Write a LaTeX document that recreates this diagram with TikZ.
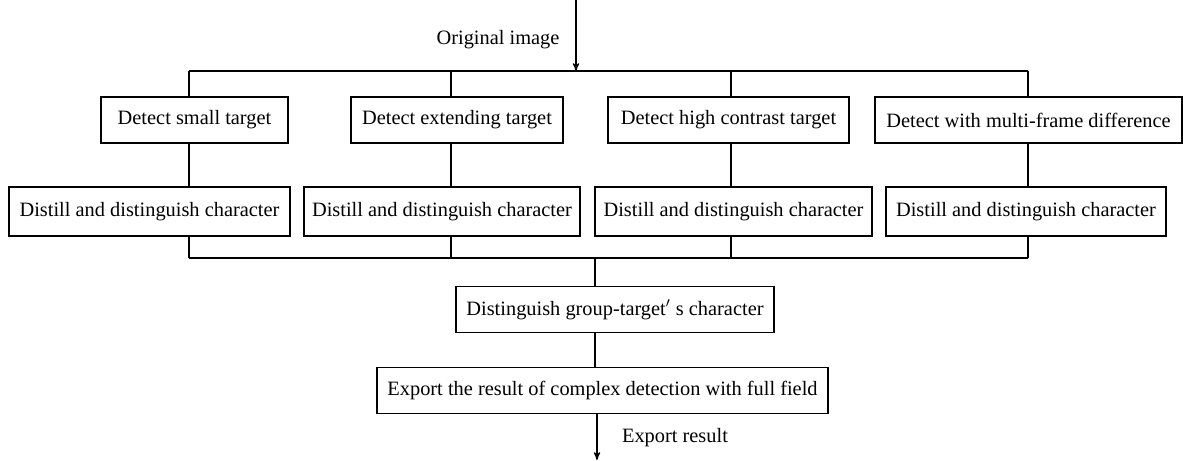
\documentclass[tikz,border=0pt]{standalone}
\usepackage{fontspec}
\setmainfont{Liberation Serif}
\usetikzlibrary{arrows,positioning}

\begin{document}
\begin{tikzpicture}[x=0.02cm,y=-0.02cm,>=stealth',line width=0.65pt,
  box/.style={draw,rectangle,inner sep=0pt,minimum height=0.92cm,font=\fontsize{11.6}{14}\selectfont},
  lbl/.style={font=\fontsize{11.6}{14}\selectfont}]
	  \useasboundingbox (0,0) rectangle (1183,460);
	  % detection boxes
	  \node[box,minimum width=3.74cm] (d1) at (194.5,120) {Detect small target};
	  \node[box,minimum width=4.24cm] (d2) at (457,120)   {Detect extending target};
	  \node[box,minimum width=4.82cm] (d3) at (728.5,120) {Detect high contrast target};
	  \node[box,minimum width=6.14cm] (d4) at (1028.5,120) {Detect with multi-frame difference};
	  % character boxes
	  \node[box,minimum width=5.62cm,minimum height=0.98cm] (di1) at (149.5,211.5) {Distill and distinguish character};
	  \node[box,minimum width=5.52cm,minimum height=0.98cm] (di2) at (442,211.5)   {Distill and distinguish character};
	  \node[box,minimum width=5.54cm,minimum height=0.98cm] (di3) at (733.5,211.5) {Distill and distinguish character};
	  \node[box,minimum width=5.6cm,minimum height=0.98cm]  (di4) at (1026,211.5)  {Distill and distinguish character};
	  \node[box,minimum width=6.36cm] (g) at (615,309.5)   {Distinguish group-target$'$ s character};
	  \node[box,minimum width=9.02cm] (e) at (602.5,390.5) {Export the result of complex detection with full field};
	  \node[lbl] (orig) at (498,40)  {Original image};
	  \node[lbl] (res)  at (675,438) {Export result};
	  % bus points
	  \coordinate (in)  at (576,0);
	  \coordinate (out) at (597,460);
	  \coordinate (t1) at (189,71);  \coordinate (t2) at (451,71);
	  \coordinate (t3) at (731,71);  \coordinate (t4) at (1028,71);
	  \coordinate (u1) at (189,258); \coordinate (u2) at (451,258);
	  \coordinate (u3) at (731,258); \coordinate (u4) at (1028,258);
	  \coordinate (u0) at (595,258);
	  \draw[->] (in) -- (in |- t1);
	  \draw (t1) -- (t4) (u1) -- (u4);
	  \foreach \i in {1,...,4} {
	    \draw (t\i) -- (d\i.north -| t\i);
	    \draw (d\i.south -| t\i) -- (di\i.north -| t\i);
	    \draw (di\i.south -| t\i) -- (u\i);
	  }
	  \draw (u0) -- (g.north -| u0);
	  \draw (g.south -| u0) -- (e.north -| u0);
	  \draw[->] (e.south -| out) -- (out);
	\end{tikzpicture}
\end{document}
